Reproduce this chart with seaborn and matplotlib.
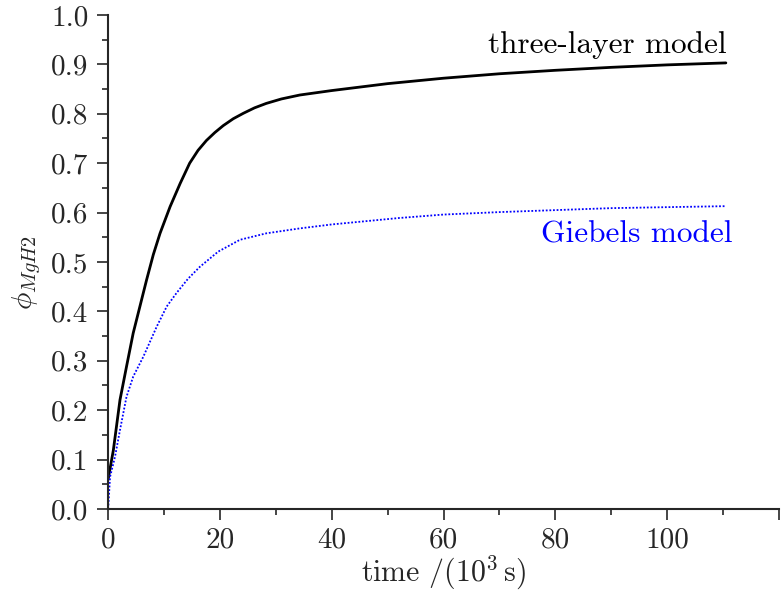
import matplotlib
matplotlib.use("Agg")
import matplotlib.pyplot as plt
import seaborn as sns
import pandas as pd
from matplotlib.ticker import MultipleLocator, FixedLocator

# Data
t_three = [0, 0.95, 2.14, 3.3, 4.5, 5.7, 6.9, 8.1, 9.3, 11.1, 12.9, 14.6, 16.1, 17.6, 19.1, 20.6, 22.4, 24.2, 26.2, 28.3, 31, 34.3, 40, 50, 60, 70, 80, 90, 100, 110.5]
phi_three = [0.059, 0.119, 0.221, 0.288, 0.356, 0.41, 0.464, 0.515, 0.558, 0.612, 0.659, 0.70, 0.726, 0.746, 0.762, 0.776, 0.79, 0.801, 0.812, 0.821, 0.83, 0.838, 0.847, 0.861, 0.872, 0.881, 0.888, 0.894, 0.899, 0.903]
t_gieb = [0, 0.05, 0.36, 1.25, 2.14, 3.3, 4.5, 6.3, 8.7, 10.5, 12.3, 14.3, 16.4, 19.7, 23.6, 28.3, 34.3, 40, 52, 60, 70, 80, 90, 100, 110.5]
phi_gieb = [0.0, 0.005, 0.065, 0.106, 0.16, 0.227, 0.268, 0.308, 0.369, 0.41, 0.438, 0.466, 0.49, 0.521, 0.545, 0.558, 0.568, 0.576, 0.589, 0.596, 0.601, 0.605, 0.609, 0.611, 0.613]
series_labels = ["three-layer model", "Giebels model"]
x_ticks = [0, 20, 40, 60, 80, 100, 120]
x_ticklabels = ["0", "20", "40", "60", "80", "100", ""]
y_ticks = [0.0, 0.1, 0.2, 0.3, 0.4, 0.5, 0.6, 0.7, 0.8, 0.9, 1.0]

sns.set_style("ticks")
plt.rcParams["font.family"] = "serif"
plt.rcParams["font.serif"] = ["cmr10", "DejaVu Serif"]
plt.rcParams["mathtext.fontset"] = "cm"
plt.rcParams["axes.formatter.use_mathtext"] = True

fig = plt.figure(figsize=(7.84, 5.92), dpi=100)
ax = fig.add_axes([0.1378, 0.1402, 0.9936 - 0.1378, 0.9747 - 0.1402])

df1 = pd.DataFrame({"t": t_three, "phi": phi_three})
df2 = pd.DataFrame({"t": t_gieb, "phi": phi_gieb})
sns.lineplot(data=df1, x="t", y="phi", ax=ax, color="black", lw=2.0, sort=True, estimator=None)
sns.lineplot(data=df2, x="t", y="phi", ax=ax, color="#0000ff", lw=1.3, sort=True, estimator=None,
             dashes=False, linestyle=(0, (1, 1)))

ax.set_xlim(0, 120)
ax.set_ylim(0, 1.0)
ax.xaxis.set_major_locator(FixedLocator(x_ticks))
ax.set_xticklabels(x_ticklabels)
ax.xaxis.set_minor_locator(MultipleLocator(10))
ax.yaxis.set_major_locator(FixedLocator(y_ticks))
ax.set_yticklabels([f"{v:.1f}" for v in y_ticks])
ax.yaxis.set_minor_locator(MultipleLocator(0.05))

ax.tick_params(which="major", direction="out", length=8, width=1.2, labelsize=21)
ax.tick_params(axis="y", which="major", pad=6)
ax.tick_params(axis="x", which="major", pad=5)
ax.tick_params(which="minor", direction="out", length=4, width=1.2)
for s in ["left", "bottom"]:
    ax.spines[s].set_linewidth(1.5)
sns.despine(ax=ax)

ax.set_xlabel(r"time $/(10^3\,\mathrm{s})$", fontsize=21.5)
ax.xaxis.set_label_coords(0.5, -0.09)
ax.set_ylabel(r"$\phi_{MgH2}$", fontsize=21)
ax.yaxis.set_label_coords(-0.097, 0.478)

ax.text(110.7, 0.923, series_labels[0], color="black", fontsize=22.5, ha="right", va="baseline")
ax.text(111.6, 0.540, series_labels[1], color="#0000ff", fontsize=22.5, ha="right", va="baseline")

fig.savefig("out.png", dpi=100)
